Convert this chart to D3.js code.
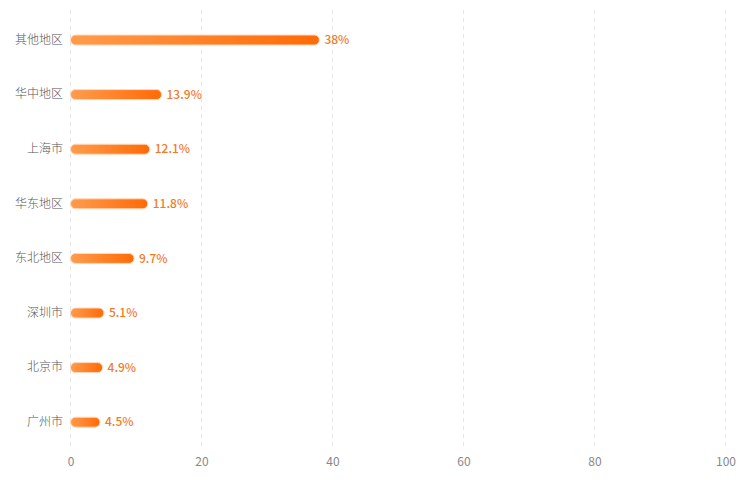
<!DOCTYPE html>
<html><head><meta charset="utf-8">
<script src="https://cdn.jsdelivr.net/npm/d3@7"></script>
<style>body{margin:0;background:#fff;}svg{display:block;}</style>
</head><body><div id="chart"></div>
<script>
const categories = ["其他地区","华中地区","上海市","华东地区","东北地区","深圳市","北京市","广州市"];
const values = [38, 13.9, 12.1, 11.8, 9.7, 5.1, 4.9, 4.5];
const labels = ["38%","13.9%","12.1%","11.8%","9.7%","5.1%","4.9%","4.5%"];
const xTicks = [0,20,40,60,80,100];

const W = 754, H = 497;
const svg = d3.select("#chart").append("svg").attr("width", W).attr("height", H);
const font = "'Noto Sans CJK SC','Noto Sans',sans-serif";

const x = d3.scaleLinear().domain([0,100]).range([70.5, 725.5]);
const y = d3.scaleBand().domain(categories).range([12.7, 449.5]);

const defs = svg.append("defs");
const grad = defs.append("linearGradient").attr("id","g").attr("x1","0").attr("x2","1").attr("y1","0").attr("y2","0");
grad.append("stop").attr("offset","0%").attr("stop-color","#ff9c4d");
grad.append("stop").attr("offset","100%").attr("stop-color","#ff6a06");

// grid
svg.append("g").selectAll("line").data(xTicks).join("line")
  .attr("x1", d => x(d)).attr("x2", d => x(d))
  .attr("y1", 10).attr("y2", 450)
  .attr("stroke", "#e6e6e6").attr("stroke-width", 1).attr("stroke-dasharray", "4,4");

// x axis labels
const xa = svg.append("g").attr("transform", "translate(0,454)")
  .call(d3.axisBottom(x).tickValues(xTicks).tickSize(0).tickPadding(3));
xa.select(".domain").remove();
xa.selectAll("text").attr("fill", "#888").style("font-family", font).style("font-size", "12px");

// y labels
const ya = svg.append("g").attr("transform", "translate(63,0)")
  .call(d3.axisLeft(y).tickSize(0).tickPadding(0));
ya.select(".domain").remove();
ya.selectAll("text").attr("fill", "#555").style("font-family", font).style("font-size", "12px").style("font-weight", "300");

const data = categories.map((c,i) => ({c, v: values[i], l: labels[i]}));
const bh = 10;
svg.append("g").selectAll("rect").data(data).join("rect")
  .attr("x", x(0)).attr("y", d => y(d.c) + y.bandwidth()/2 - bh/2)
  .attr("width", d => x(d.v) - x(0)).attr("height", bh)
  .attr("rx", bh/2).attr("ry", bh/2)
  .attr("fill", "url(#g)").attr("stroke", "#ffd9bd").attr("stroke-width", 1);

svg.append("g").selectAll("text").data(data).join("text")
  .attr("x", d => x(d.v) + 5).attr("y", d => y(d.c) + y.bandwidth()/2)
  .attr("dy", "0.35em").attr("fill", "#f27a28")
  .style("font-family", font).style("font-size", "12px").style("font-weight", "500")
  .text(d => d.l);
</script></body></html>
